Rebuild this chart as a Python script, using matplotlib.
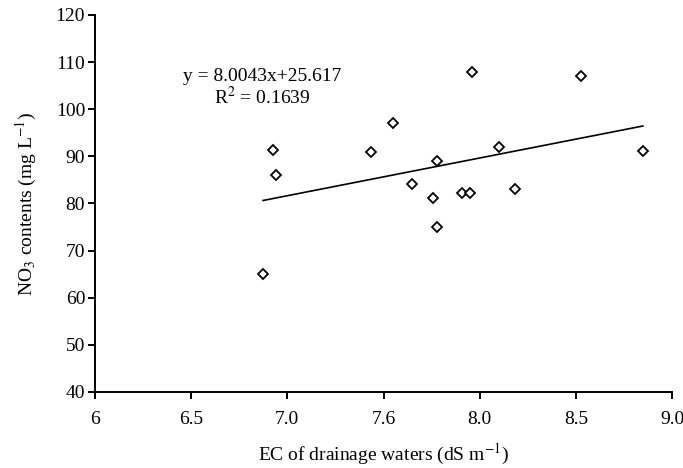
import matplotlib
matplotlib.use("Agg")
import matplotlib.pyplot as plt
import numpy as np

# Datos
ec = [6.926, 6.941, 6.874, 7.959, 8.529, 7.548, 7.437, 8.099, 8.848,
      7.778, 7.650, 7.758, 7.907, 7.952, 8.186, 7.778]
no3 = [91.4, 86.0, 65.0, 108.0, 107.1, 97.1, 90.9, 92.0, 91.1,
       89.1, 84.1, 81.2, 82.2, 82.2, 83.1, 75.1]

# Recta de regresion indicada en la figura
slope = 8.0043
intercept = 25.617
r2 = 0.1639

xticks = [6, 6.5, 7.0, 7.5, 8.0, 8.5, 9.0]
xtick_labels = ['6', '6.5', '7.0', '7.6', '8.0', '8.5', '9.0']
yticks = [40, 50, 60, 70, 80, 90, 100, 110, 120]

plt.rcParams['font.family'] = ['Liberation Serif', 'DejaVu Serif']
plt.rcParams['mathtext.fontset'] = 'stix'

fig = plt.figure(figsize=(6.83, 4.68), dpi=100)
ax = fig.add_axes([0.139, 0.1624, 0.845, 0.8056])

ax.plot(ec, no3, linestyle='none', marker='D', markersize=5,
        markerfacecolor='white', markeredgecolor='black', markeredgewidth=1.3)

x_line = np.array([min(ec), max(ec)])
ax.plot(x_line, slope * x_line + intercept, color='black', linewidth=1.2)

ax.text(6.868, 107.0, f'y = {slope}x+{intercept}', ha='center', va='center', fontsize=14)
ax.text(6.868, 102.6, f'R$^2$ = {r2}', ha='center', va='center', fontsize=14)

ax.set_xlim(6, 9)
ax.set_ylim(40, 120)
ax.set_xticks(xticks)
ax.set_xticklabels(xtick_labels)
ax.set_yticks(yticks)

for s in ['top', 'right']:
    ax.spines[s].set_visible(False)
for s in ['left', 'bottom']:
    ax.spines[s].set_linewidth(1.4)

ax.tick_params(axis='both', direction='out', length=5, width=1.4, labelsize=14)
ax.tick_params(axis='x', pad=9)
ax.tick_params(axis='y', pad=2)

ax.set_xlabel('EC of drainage waters (dS m$^{-1}$)', fontsize=14, labelpad=10)
ax.set_ylabel('NO$_3$ contents (mg L$^{-1}$)', fontsize=14, labelpad=12)

fig.savefig('out.png', dpi=100)
